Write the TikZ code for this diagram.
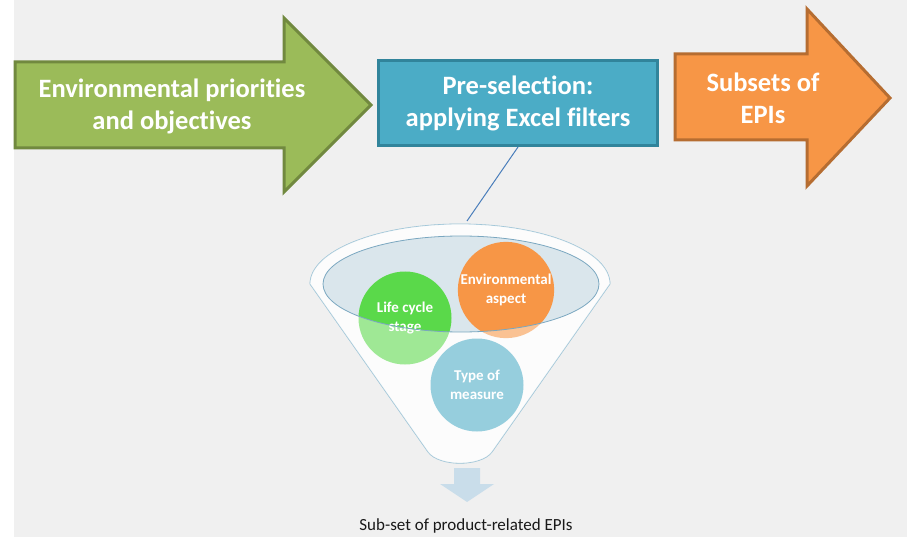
\documentclass[tikz,border=0pt]{standalone}
\usepackage{fontspec}
\setmainfont{Carlito}[Ligatures=NoCommon]
\usepackage{tikz}
\usetikzlibrary{positioning}

\definecolor{bggrey}{HTML}{F0F0F0}
\definecolor{olive}{HTML}{9BBB59}
\definecolor{olivedark}{HTML}{71893F}
\definecolor{boxblue}{HTML}{4BACC6}
\definecolor{boxbluedark}{HTML}{31849B}
\definecolor{orng}{HTML}{F79646}
\definecolor{orngdark}{HTML}{B66D31}
\definecolor{lifegreen}{HTML}{5AD94A}
\definecolor{funnelline}{HTML}{92BDD2}
\definecolor{rimline}{HTML}{7AA7C0}
\definecolor{surface}{HTML}{DAE6EC}
\definecolor{downblue}{HTML}{C9DDEA}
\definecolor{linkblue}{HTML}{4A7EBB}

\begin{document}
\begin{tikzpicture}[x=1pt, y=-1pt,
	bigtext/.style={text=white, align=center, font=\bfseries\fontsize{26.5}{32}\selectfont},
	bigarrow/.style={line width=3pt, line join=miter},
	bubble/.style={shape=circle, minimum size=93pt, inner sep=0pt, text=white, align=center, font=\bfseries\fontsize{15}{19}\selectfont}]
	
	\useasboundingbox (0,0) rectangle (907,537);
	\fill[white] (0,0) rectangle (907,537);
	\fill[bggrey] (14,0) rectangle (907,537);
	
	% the three steps
	\filldraw[bigarrow, fill=olive, draw=olivedark] (15,62) -- (284,62) -- (284,18) -- (371,105) -- (284,192) -- (284,148) -- (15,148) -- cycle;
	\node[bigtext] (prio) at (172,106) {Environmental priorities\\and objectives};
	
	\node[bigtext, draw=boxbluedark, fill=boxblue, line width=3pt, minimum width=279pt, minimum height=85pt] (pre) at (518,103) {Pre-selection:\\applying Excel filters};
	
	\filldraw[bigarrow, fill=orng, draw=orngdark] (675,54) -- (807,54) -- (807,9) -- (890,98) -- (807,186) -- (807,140) -- (675,140) -- cycle;
	\node[bigtext] (subsets) at (763,98) {Subsets of\\EPIs};
	
	\coordinate (rim) at (467,221);
	\draw[linkblue, line width=1pt] (pre.south) -- (rim);
	
	% funnel
	\filldraw[fill=white!70!bggrey, draw=funnelline, line width=0.8pt] (310,284) arc[start angle=180, end angle=0, x radius=150pt, y radius=60pt] -- (492,452) .. controls (481,467) and (439,467) .. (428,452) -- cycle;
	\fill[surface] (461,284) ellipse[x radius=138pt, y radius=48pt];
	
	\node[bubble, fill=lifegreen] (life) at (405,318) {Life cycle\\stage};
	\node[bubble, fill=orng] (aspect) at (506,290) {Environmental\\aspect};
	\node[bubble, fill=boxblue] (measure) at (477,385) {Type of\\measure};
	
	\fill[white, opacity=0.42, even odd rule] (310,284) arc[start angle=180, end angle=0, x radius=150pt, y radius=60pt] -- (492,452) .. controls (481,467) and (439,467) .. (428,452) -- cycle (461,284) ellipse[x radius=138pt, y radius=48pt];
	\draw[rimline, line width=0.8pt] (461,284) ellipse[x radius=138pt, y radius=48pt];
	
	\fill[downblue] (454,468) -- (480,468) -- (480,484) -- (494,484) -- (467,502) -- (440,484) -- (454,484) -- cycle;
	\node[text=black!90, font=\fontsize{17}{20}\selectfont] (result) at (466,526) {Sub-set of product-related EPIs};
	
\end{tikzpicture}
\end{document}
